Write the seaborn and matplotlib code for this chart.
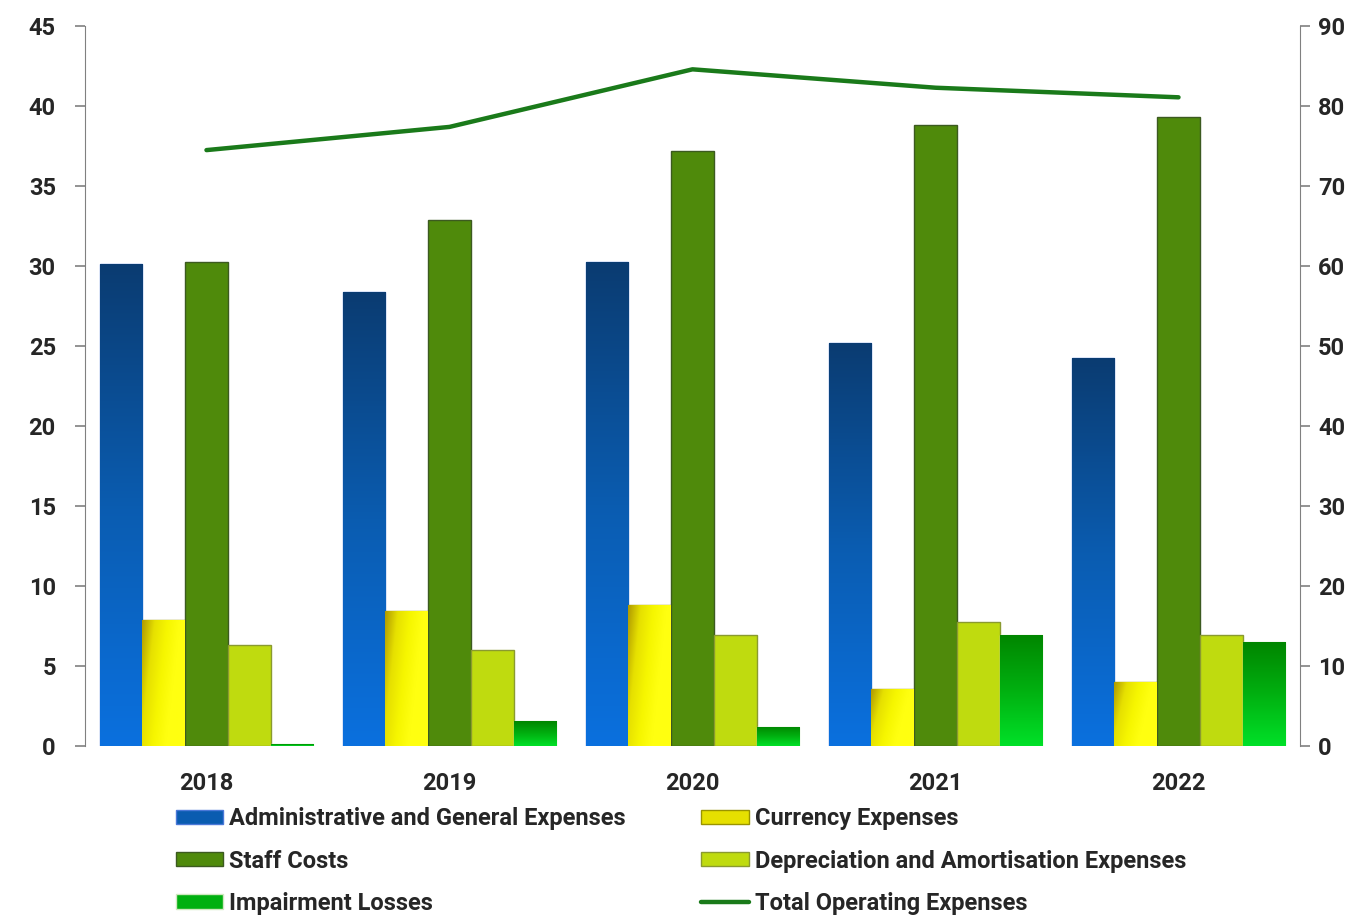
import numpy as np
import pandas as pd
import seaborn as sns
import matplotlib.pyplot as plt
from matplotlib.patches import Patch
from matplotlib.lines import Line2D
from matplotlib.colors import LinearSegmentedColormap

years = ['2018', '2019', '2020', '2021', '2022']
admin = [30.1, 28.4, 30.25, 25.2, 24.25]
currency = [7.9, 8.45, 8.8, 3.55, 4.0]
staff = [30.25, 32.9, 37.2, 38.8, 39.3]
depreciation = [6.3, 6.0, 6.95, 7.75, 6.95]
impairment = [0.1, 1.55, 1.2, 6.95, 6.5]
total = [74.5, 77.4, 84.6, 82.3, 81.1]

names = ['Administrative and General Expenses', 'Currency Expenses', 'Staff Costs',
         'Depreciation and Amortisation Expenses', 'Impairment Losses']
line_name = 'Total Operating Expenses'

df = pd.DataFrame({'year': years * 5,
                   'value': admin + currency + staff + depreciation + impairment,
                   'series': [n for n in names for _ in years]})

sns.set_style('white')
plt.rcParams['font.family'] = ['Roboto', 'DejaVu Sans']
plt.rcParams['font.weight'] = 'bold'

# gradient maps
cm_admin = LinearSegmentedColormap.from_list('a', ['#0a3c72', '#0b5cb0', '#0a70de'])
cm_cur = LinearSegmentedColormap.from_list('c', ['#b09a00', '#e6e000', '#f6f600', '#ffff10'])
cm_imp = LinearSegmentedColormap.from_list('i', ['#008600', '#00b010', '#00e028'])
styles = [
    dict(color='#0a5cb0', edge='#4a78d8', cmap=cm_admin, grad='v'),
    dict(color='#e6e000', edge='#9a9400', cmap=cm_cur, grad='d'),
    dict(color='#4f8a0b', edge='#3c5a20', cmap=None, grad=None),
    dict(color='#bfdb0f', edge='#8a9a30', cmap=None, grad=None),
    dict(color='#00b010', edge='#d0e8c0', cmap=cm_imp, grad='v'),
]

fig = plt.figure(figsize=(13.66, 9.17), dpi=100)
ax = fig.add_axes([0.0622, 0.1865, 0.8895, 0.785])

sns.barplot(data=df, x='year', y='value', hue='series', hue_order=names,
            palette=[s['color'] for s in styles], width=0.88, saturation=1,
            errorbar=None, legend=False, ax=ax)

n = 64
vert = np.linspace(0, 1, n)[:, None] * np.ones((1, n))
diag = np.clip((np.linspace(0, 1, n)[:, None] * 0.35 + np.linspace(0, 1, n)[None, :] * 1.0) / 0.9, 0, 1)
for cont, st in zip(ax.containers, styles):
    for p in cont:
        p.set_edgecolor(st['edge'])
        p.set_linewidth(1.0)
        if st['cmap'] is None:
            continue
        x0, y0 = p.get_x(), p.get_y()
        w, h = p.get_width(), p.get_height()
        arr = vert if st['grad'] == 'v' else diag
        im = ax.imshow(arr, cmap=st['cmap'], origin='upper', aspect='auto',
                       extent=[x0, x0 + w, y0, y0 + h], zorder=p.get_zorder() + 0.1,
                       interpolation='bilinear')
        im.set_clip_path(p)

ax.set_xlim(-0.5, 4.5)
ax.set_ylim(0, 45)
ax.set_yticks(range(0, 46, 5))
ax.set_xlabel('')
ax.set_ylabel('')

ax2 = ax.twinx()
sns.lineplot(x=np.arange(len(years)), y=total, color='#1a7a1a', linewidth=3.2, ax=ax2)
ax2.set_ylim(0, 90)
ax2.set_yticks(range(0, 91, 10))
ax2.set_xlim(-0.5, 4.5)

for a in (ax, ax2):
    for s in ['top', 'bottom']:
        a.spines[s].set_visible(False)
    a.spines['left'].set_color('#808080')
    a.spines['right'].set_color('#808080')
    a.tick_params(axis='y', length=7, width=1.2, color='#808080', labelsize=17)
    a.tick_params(axis='x', length=0, labelsize=17, pad=19)
ax.spines['right'].set_visible(False)
ax2.spines['left'].set_visible(False)
ax.tick_params(axis='y', pad=14)
ax2.tick_params(axis='y', pad=6)

handles = [Patch(facecolor=st['color'], edgecolor=st['edge']) for st in styles]
handles.append(Line2D([0], [0], color='#1a7a1a', lw=3.2))
labels = names + [line_name]
order = [0, 2, 4, 1, 3, 5]
fig.legend([handles[i] for i in order], [labels[i] for i in order],
           loc='upper left', bbox_to_anchor=(0.122, 0.130), ncol=2, frameon=False,
           fontsize=17, handlelength=2.0, handleheight=0.55, handletextpad=0.25,
           columnspacing=3.2, labelspacing=0.82, borderaxespad=0)

fig.savefig('out.png', dpi=100)
